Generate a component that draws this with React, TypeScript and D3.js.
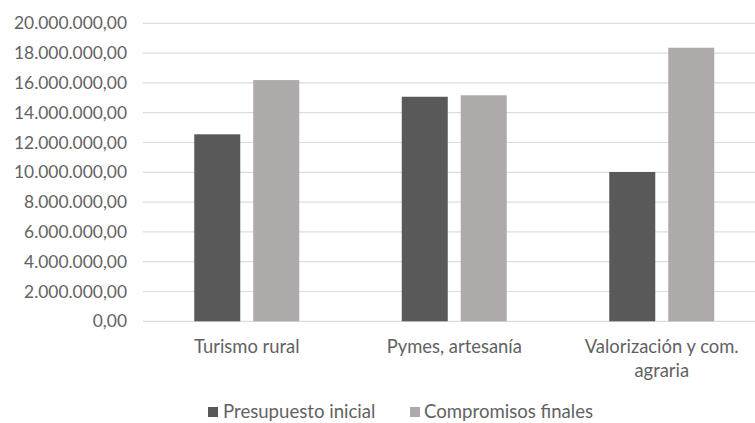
import React from "react";
import * as d3 from "d3";

const categories = ["Turismo rural", "Pymes, artesanía", "Valorización y com. agraria"];
const categoryLines = [["Turismo rural"], ["Pymes, artesanía"], ["Valorización y com.", "agraria"]];
const seriesNames = ["Presupuesto inicial", "Compromisos finales"];
const presupuestoInicial = [12550000, 15070000, 10020000];
const compromisosFinales = [16190000, 15170000, 18360000];
const yTicks = [0, 2000000, 4000000, 6000000, 8000000, 10000000, 12000000, 14000000, 16000000, 18000000, 20000000];
const colors = ["#595959", "#aeaaaa"];

const W = 755;
const H = 423;
const FONT = "Lato, 'Open Sans', sans-serif";
const TEXT = "#626262";

const locale = d3.formatLocale({ decimal: ",", thousands: ".", grouping: [3], currency: ["", "€"] });
const fmt = locale.format(",.2f");

export default function App() {
  const y = d3.scaleLinear().domain([0, 20000000]).range([321.3, 23.3]);
  const x = d3.scaleBand<string>().domain(categories).range([143, 765.5]).padding(0);
  const groupW = 105;
  const inner = d3.scaleBand<string>().domain(seriesNames).range([0, groupW]).paddingInner(0.22);
  const seriesValues = [presupuestoInicial, compromisosFinales];

  return (
    <div style={{ position: "fixed", left: 0, top: 0, width: W, height: H, background: "#fff" }}>
      <svg width={W} height={H} style={{ display: "block", fontFamily: FONT }}>
        <rect x={0} y={0} width={W} height={H} fill="#fff" />
        {yTicks.map((t) => (
          <g key={t}>
            <line x1={143} x2={W} y1={y(t)} y2={y(t)} stroke="#dcdcdc" strokeWidth={1.2} />
            <text x={127} y={y(t)} dy="0.35em" textAnchor="end" fontSize={17.4} fill={TEXT}>
              {fmt(t)}
            </text>
          </g>
        ))}
        {categories.map((c, i) => {
          const gx = (x(c) as number) + (x.bandwidth() - groupW) / 2;
          return (
            <g key={c}>
              {seriesNames.map((s, k) => {
                const v = seriesValues[k][i];
                return (
                  <rect
                    key={s}
                    x={gx + (inner(s) as number)}
                    y={y(v)}
                    width={inner.bandwidth()}
                    height={y(0) - y(v)}
                    fill={colors[k]}
                  />
                );
              })}
              {categoryLines[i].map((ln, j) => (
                <text
                  key={j}
                  x={(x(c) as number) + x.bandwidth() / 2}
                  y={353 + j * 23.5}
                  textAnchor="middle"
                  fontSize={18.4}
                  fill={TEXT}
                >
                  {ln}
                </text>
              ))}
            </g>
          );
        })}
        <g>
          <rect x={208} y={407} width={10} height={10} fill={colors[0]} />
          <text x={223} y={417.5} fontSize={18.6} fill={TEXT}>{seriesNames[0]}</text>
          <rect x={410} y={407} width={10} height={10} fill={colors[1]} />
          <text x={424} y={417.5} fontSize={18.6} fill={TEXT}>{seriesNames[1]}</text>
        </g>
      </svg>
    </div>
  );
}
